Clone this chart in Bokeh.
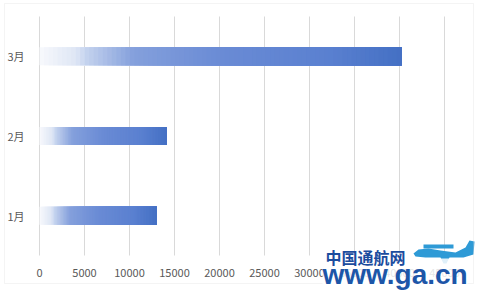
from bokeh.plotting import figure
from bokeh.models import Range1d, FixedTicker, ColumnDataSource, Label, BoxAnnotation
from bokeh.embed import file_html
from bokeh.resources import INLINE

categories = ["1月", "2月", "3月"]
values = [13000, 14100, 40200]
x_ticks = [0, 5000, 10000, 15000, 20000, 25000, 30000, 35000, 40000, 45000]
watermark_cn = "中国通航网"
watermark_url = "www.ga.cn"

stops = [(0.0, (248, 249, 252)), (0.10, (222, 230, 245)), (0.13, (196, 210, 238)),
         (0.26, (132, 160, 220)), (0.5, (106, 139, 213)), (0.8, (90, 128, 208)),
         (1.0, (68, 112, 196))]

def grad(t):
    for (t0, c0), (t1, c1) in zip(stops[:-1], stops[1:]):
        if t <= t1:
            f = (t - t0) / (t1 - t0) if t1 > t0 else 0
            c = [round(a + (b - a) * f) for a, b in zip(c0, c1)]
            return "#%02x%02x%02x" % tuple(c)
    return "#%02x%02x%02x" % stops[-1][1]

ncat = len(categories)
cat_pos = [i + 0.5 for i in range(ncat)]

N = 80
ys, lefts, rights, cols = [], [], [], []
for yp, v in zip(cat_pos, values):
    for i in range(N):
        ys.append(yp)
        lefts.append(v * i / N)
        rights.append(v)
        cols.append(grad((i + 0.5) / N))
src = ColumnDataSource(dict(y=ys, left=lefts, right=rights, color=cols))

# plot area: x 0..45000 -> px 39..444 ; y 0..3 -> px 255..16 (canvas 480x290)
W, H = 480, 290
fx0, fx1, fy0, fy1 = 39, 444, 16, 255
xpp = (x_ticks[-1] - x_ticks[0]) / (fx1 - fx0)
ypp = ncat / (fy1 - fy0)
x_range = Range1d(x_ticks[0] - fx0 * xpp, x_ticks[-1] + (W - fx1) * xpp)
y_range = Range1d(-(H - fy1) * ypp, ncat + fy0 * ypp)

p = figure(width=W, height=H, output_backend="svg", toolbar_location=None,
           x_range=x_range, y_range=y_range, min_border=0)
p.outline_line_color = None
p.background_fill_color = "white"
p.border_fill_color = "white"
p.xgrid.visible = False
p.ygrid.visible = False

# vertical gridlines
p.segment(x0=x_ticks, y0=[0] * len(x_ticks), x1=x_ticks, y1=[ncat] * len(x_ticks),
          line_color="#D9D9D9", line_width=1)

p.hbar(y="y", left="left", right="right", height=0.226, color="color",
       line_color=None, source=src)

p.xaxis.ticker = FixedTicker(ticks=x_ticks)
p.xaxis.fixed_location = 0
p.yaxis.ticker = FixedTicker(ticks=cat_pos)
p.yaxis.major_label_overrides = {yp: c for yp, c in zip(cat_pos, categories)}
p.yaxis.fixed_location = 0
for ax in (p.xaxis, p.yaxis):
    ax.axis_line_color = None
    ax.major_tick_line_color = None
    ax.minor_tick_line_color = None
    ax.major_label_text_font = "Noto Sans CJK SC"
    ax.major_label_text_font_size = "11px"
    ax.major_label_text_color = "#595959"
p.xaxis.major_label_standoff = 7
p.yaxis.major_label_standoff = 9

# outer chart border
p.add_layout(BoxAnnotation(left=4, right=473, top=H - 3, bottom=H - 283,
                           left_units="screen", right_units="screen",
                           top_units="screen", bottom_units="screen",
                           fill_alpha=0, line_color="#D9D9D9", line_width=1))

# watermark (logo): aeroplane silhouette, drawn in page pixels converted to data space
def px(xs, ys_):
    return ([x_range.start + x * xpp for x in xs], [y_range.end - y * ypp for y in ys_])

plane_x = [413, 418, 428, 440, 455, 465, 469, 474, 473, 463, 449, 446, 443, 440, 425, 415]
plane_y = [253, 249, 248, 250, 252, 247, 240, 241, 254, 257, 257, 263, 263, 257, 257, 256]
wing_x = [423, 453, 453, 423]
wing_y = [244, 244, 248, 248]
bx, by = px(plane_x, plane_y)
wx, wy = px(wing_x, wing_y)
p.patches(xs=[bx, wx], ys=[by, wy], fill_color="#2E9AD6", line_color=None)

p.add_layout(Label(x=322, y=H - 289, x_units="screen", y_units="screen",
                   text=watermark_url, text_font="Liberation Sans",
                   text_font_style="bold", text_font_size="28px", text_color="#1D56A8",
                   text_baseline="bottom", background_fill_color="white",
                   background_fill_alpha=0.85))
p.add_layout(Label(x=325, y=H - 268, x_units="screen", y_units="screen",
                   text=watermark_cn, text_font="Noto Sans CJK SC",
                   text_font_style="bold", text_font_size="16px", text_color="#1B4C9E",
                   text_baseline="bottom"))

open("out.html", "w").write(file_html(p, INLINE))
